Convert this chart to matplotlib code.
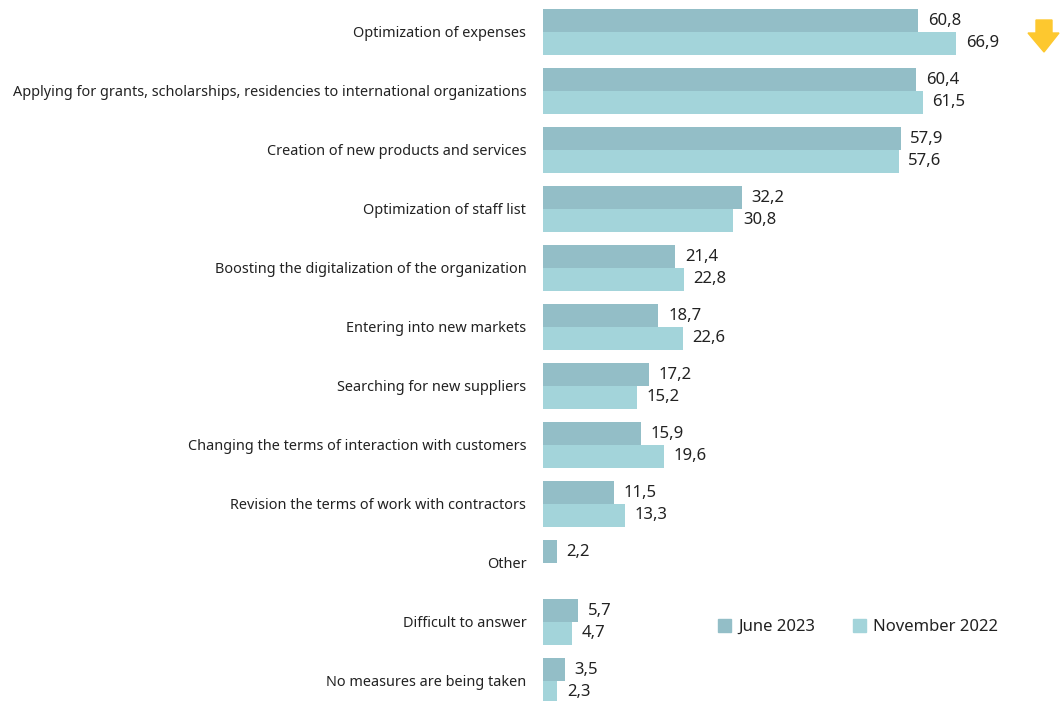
import numpy as np
import matplotlib.pyplot as plt
from matplotlib.patches import Polygon, Patch

plt.rcParams['font.family'] = ['Noto Sans', 'DejaVu Sans']

categories = [
    'Optimization of expenses',
    'Applying for grants, scholarships, residencies to international organizations',
    'Creation of new products and services',
    'Optimization of staff list',
    'Boosting the digitalization of the organization',
    'Entering into new markets',
    'Searching for new suppliers',
    'Changing the terms of interaction with customers',
    'Revision the terms of work with contractors',
    'Other',
    'Difficult to answer',
    'No measures are being taken',
]
june_2023 = [60.8, 60.4, 57.9, 32.2, 21.4, 18.7, 17.2, 15.9, 11.5, 2.2, 5.7, 3.5]
nov_2022 = [66.9, 61.5, 57.6, 30.8, 22.8, 22.6, 15.2, 19.6, 13.3, None, 4.7, 2.3]

c_june = '#93bec7'
c_nov = '#a3d4da'
txt = '#222222'

fig = plt.figure(figsize=(10.6, 7.01), dpi=100)
ax = fig.add_axes([543 / 1060, 0, 1 - 543 / 1060, 1])

y = np.arange(len(categories))
h = 0.385

def fmt(v):
    return f'{v:.1f}'.replace('.', ',')

for i, (a, b) in enumerate(zip(june_2023, nov_2022)):
    ax.barh(i - h / 2, a, height=h, color=c_june)
    ax.annotate(fmt(a), (a, i - h / 2), xytext=(7, 0), textcoords='offset points',
                va='center', ha='left', fontsize=12, color=txt)
    if b is not None:
        ax.barh(i + h / 2, b, height=h, color=c_nov)
        ax.annotate(fmt(b), (b, i + h / 2), xytext=(7, 0), textcoords='offset points',
                    va='center', ha='left', fontsize=12, color=txt)

ax.set_xlim(0, 517 / 6.175)
ax.set_ylim((701 - 32) / 59, -32 / 59)
ax.set_yticks(y)
ax.set_yticklabels(categories, fontsize=10.4, color=txt)
ax.tick_params(axis='y', length=0, pad=12)
ax.set_xticks([])
for s in ax.spines.values():
    s.set_visible(False)

handles = [Patch(color=c_june, label='June 2023'), Patch(color=c_nov, label='November 2022')]
fig.legend(handles=handles, loc='center', bbox_to_anchor=(858 / 1060, 1 - 627 / 701),
           ncol=2, frameon=False, fontsize=12, handlelength=0.8, handleheight=0.8,
           handletextpad=0.4, columnspacing=2.3, labelcolor=txt)

# down arrow next to the top group
px = [(1036, 20), (1052, 20), (1052, 33), (1059, 33), (1044, 52), (1028, 33), (1036, 33)]
arrow = Polygon([(x / 1060, 1 - yy / 701) for x, yy in px], closed=True,
                transform=fig.transFigure, color='#fdc82f', clip_on=False)
fig.patches.append(arrow)

fig.savefig('out.png', dpi=100)
